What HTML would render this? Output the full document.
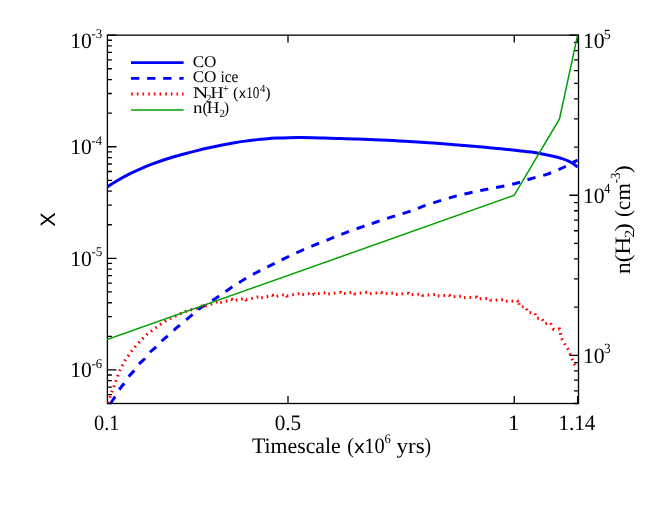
<!DOCTYPE html>
<html><head><meta charset="utf-8"><title>plot</title><style>html,body{margin:0;padding:0;background:#fff}svg{display:block;will-change:transform}</style></head><body>
<svg width="664" height="526" viewBox="0 0 664 526">
<rect width="664" height="526" fill="#fff"/>
<defs><clipPath id="c"><rect x="107.00" y="35.15" width="471.50" height="368.35"/></clipPath></defs>
<g stroke="#000" stroke-width="1.3" fill="none">
<rect x="107.40" y="35.15" width="471.10" height="368.35"/>
<path d="M107.40 403.50h4.50M107.40 394.66h4.50M107.40 387.19h4.50M107.40 380.72h4.50M107.40 375.02h4.50M107.40 369.91h9.10M107.40 336.32h4.50M107.40 316.67h4.50M107.40 302.73h4.50M107.40 291.91h4.50M107.40 283.08h4.50M107.40 275.61h4.50M107.40 269.14h4.50M107.40 263.43h4.50M107.40 258.32h9.10M107.40 224.73h4.50M107.40 205.08h4.50M107.40 191.14h4.50M107.40 180.33h4.50M107.40 171.49h4.50M107.40 164.02h4.50M107.40 157.55h4.50M107.40 151.84h4.50M107.40 146.74h9.10M107.40 113.15h4.50M107.40 93.50h4.50M107.40 79.55h4.50M107.40 68.74h4.50M107.40 59.91h4.50M107.40 52.43h4.50M107.40 45.96h4.50M107.40 40.26h4.50M107.40 35.15h9.10M578.50 403.50h-4.50M578.50 390.82h-4.50M578.50 380.11h-4.50M578.50 370.82h-4.50M578.50 362.64h-4.50M578.50 355.31h-9.10M578.50 307.12h-4.50M578.50 278.93h-4.50M578.50 258.93h-4.50M578.50 243.42h-4.50M578.50 230.74h-4.50M578.50 220.03h-4.50M578.50 210.74h-4.50M578.50 202.56h-4.50M578.50 195.23h-9.10M578.50 147.04h-4.50M578.50 118.85h-4.50M578.50 98.85h-4.50M578.50 83.34h-4.50M578.50 70.66h-4.50M578.50 59.95h-4.50M578.50 50.66h-4.50M578.50 42.47h-4.50M578.50 35.15h-9.10M288.00 403.50v-7.4M288.00 35.15v7.4M514.25 403.50v-7.4M514.25 35.15v7.4M577.60 403.50v-7.4M577.60 35.15v7.4"/>
</g>
<g clip-path="url(#c)" fill="none">
<path d="M107.00 187.12 C108.67 186.05 113.37 182.89 117.05 180.72 C120.73 178.56 125.09 176.16 129.10 174.13 C133.11 172.10 137.08 170.28 141.10 168.54 C145.12 166.80 149.18 165.20 153.20 163.70 C157.22 162.20 161.18 160.85 165.20 159.53 C169.22 158.22 174.00 156.81 177.30 155.83 C180.60 154.86 181.71 154.56 185.00 153.69 C188.29 152.81 193.03 151.58 197.05 150.60 C201.07 149.62 205.09 148.68 209.10 147.80 C213.11 146.91 217.08 146.07 221.10 145.27 C225.12 144.48 229.18 143.71 233.20 143.02 C237.22 142.33 241.18 141.69 245.20 141.13 C249.22 140.56 254.00 140.00 257.30 139.62 C260.60 139.25 261.71 139.14 265.00 138.89 C268.29 138.63 273.03 138.29 277.05 138.09 C281.07 137.88 285.09 137.76 289.10 137.68 C293.11 137.60 297.08 137.59 301.10 137.60 C305.12 137.61 309.18 137.68 313.20 137.76 C317.22 137.84 321.18 137.95 325.20 138.06 C329.22 138.17 334.00 138.33 337.30 138.43 C340.60 138.54 341.71 138.58 345.00 138.69 C348.29 138.80 353.03 138.96 357.05 139.11 C361.07 139.25 365.09 139.39 369.10 139.55 C373.11 139.71 377.08 139.86 381.10 140.04 C385.12 140.21 389.18 140.40 393.20 140.59 C397.22 140.79 401.18 141.00 405.20 141.22 C409.22 141.44 414.00 141.73 417.30 141.93 C420.60 142.13 421.71 142.21 425.00 142.43 C428.29 142.65 433.03 142.98 437.05 143.28 C441.07 143.57 445.09 143.89 449.10 144.21 C453.11 144.53 457.08 144.86 461.10 145.20 C465.12 145.55 469.18 145.91 473.20 146.27 C477.22 146.63 481.18 146.99 485.20 147.36 C489.22 147.73 494.00 148.18 497.30 148.49 C500.60 148.80 501.71 148.89 505.00 149.22 C508.29 149.55 513.03 150.00 517.05 150.44 C521.07 150.88 525.09 151.32 529.10 151.86 C533.11 152.41 537.08 152.96 541.10 153.68 C545.12 154.41 549.58 155.34 553.20 156.21 C556.82 157.08 559.98 157.95 562.80 158.90 C565.62 159.85 568.08 160.90 570.10 161.90 C572.12 162.90 573.65 164.03 574.90 164.90 C576.15 165.77 577.15 166.73 577.60 167.10" stroke="#0000ff" stroke-width="3.0"/>
<path d="M107.00 410.40 C107.57 409.32 109.10 406.13 110.40 403.90 C111.70 401.67 113.30 399.42 114.80 397.00 C116.30 394.58 117.87 391.62 119.40 389.40 C120.93 387.18 122.40 385.88 124.00 383.70 C125.60 381.52 127.28 378.52 129.00 376.30 C130.72 374.08 132.62 372.47 134.30 370.40 C135.98 368.33 137.25 365.93 139.10 363.90 C140.95 361.87 143.50 360.23 145.40 358.20 C147.30 356.17 148.65 353.65 150.50 351.70 C152.35 349.75 154.55 348.37 156.50 346.50 C158.45 344.63 160.17 342.42 162.20 340.50 C164.23 338.58 166.17 337.22 168.70 335.00 C171.23 332.78 173.85 330.25 177.40 327.20 C180.95 324.15 186.23 319.83 190.00 316.70 C193.77 313.57 195.63 311.52 200.00 308.40 C204.37 305.28 211.20 301.33 216.20 298.00 C221.20 294.67 225.43 291.43 230.00 288.40 C234.57 285.37 239.08 282.50 243.60 279.80 C248.12 277.10 252.58 274.60 257.10 272.20 C261.62 269.80 266.18 267.67 270.70 265.40 C275.22 263.13 279.23 261.00 284.20 258.60 C289.17 256.20 295.08 253.40 300.50 251.00 C305.92 248.60 311.28 246.42 316.70 244.20 C322.12 241.98 328.02 239.68 333.00 237.70 C337.98 235.72 341.63 234.15 346.60 232.30 C351.57 230.45 357.83 228.32 362.80 226.60 C367.77 224.88 371.43 223.67 376.40 222.00 C381.37 220.33 387.18 218.32 392.60 216.60 C398.02 214.88 402.90 213.73 408.90 211.70 C414.90 209.67 420.55 207.05 428.60 204.40 C436.65 201.75 447.67 198.28 457.20 195.80 C466.73 193.32 476.27 191.50 485.80 189.50 C495.33 187.50 506.88 185.60 514.40 183.80 C521.92 182.00 525.40 180.32 530.90 178.70 C536.40 177.08 542.18 175.88 547.40 174.10 C552.62 172.32 557.68 170.07 562.20 168.00 C566.72 165.93 571.93 163.00 574.50 161.70 C577.07 160.40 577.08 160.45 577.60 160.20" stroke="#0000ff" stroke-width="3.0" stroke-dasharray="8.3 7.895" stroke-dashoffset="-7.8"/>
<path d="M107.90 404.40 L108.60 402.60 L110.20 396.80 L112.00 391.50 L114.00 386.20 L116.00 380.70 L118.00 375.50 L120.00 370.00 L122.50 365.10 L125.40 359.90 L128.80 355.10 L132.00 350.60 L136.00 345.70 L139.90 341.70 L143.60 337.50 L147.60 333.70 L152.80 330.00 L157.90 326.30 L162.50 322.90 L167.00 320.00 L178.50 314.60 L187.90 310.50 L197.80 308.30 L204.60 304.57 L205.20 306.17 L218.20 301.44 L218.80 303.04 L231.80 299.56 L232.40 301.16 L245.40 298.16 L246.00 299.76 L259.00 296.65 L259.60 298.25 L272.60 295.33 L273.20 296.93 L286.20 294.32 L286.80 295.92 L299.80 293.39 L300.40 294.99 L313.40 292.77 L314.00 294.37 L327.00 292.56 L327.60 294.16 L340.60 292.36 L341.20 293.96 L354.20 292.20 L354.80 293.80 L367.80 292.20 L368.40 293.80 L381.40 292.43 L382.00 294.03 L395.00 292.83 L395.60 294.43 L408.60 293.34 L409.20 294.94 L422.20 293.86 L422.80 295.46 L435.80 294.37 L436.40 295.97 L449.40 295.27 L450.00 296.87 L463.00 296.04 L463.60 297.64 L476.60 297.16 L477.20 298.76 L490.20 298.52 L490.80 300.12 L503.80 299.79 L504.40 301.39 L517.40 300.93 L518.00 302.53 L518.40 301.00 L519.40 306.20 L526.20 307.40 L527.60 312.20 L534.80 313.10 L536.50 318.20 L541.60 318.20 L545.00 323.80 L550.20 322.50 L553.60 329.30 L559.60 329.00 L561.30 337.90 L564.70 343.80 L569.00 350.70 L571.50 357.50 L574.10 363.50 L575.80 366.10" stroke="#ff0000" stroke-width="3.0" stroke-dasharray="1.65 4.02" stroke-dashoffset="-1.3"/>
<path d="M107.00 339.65 L514.25 195.23 L559.50 118.85 L577.60 35.15" stroke="#00a000" stroke-width="1.5"/>
</g>
<g fill="none">
<path d="M131 62.65H183.6" stroke="#0000ff" stroke-width="2.9"/>
<path d="M131 78.4H183.6" stroke="#0000ff" stroke-width="2.9" stroke-dasharray="8.3 7.8"/>
<path d="M131.15 94.0H183.6" stroke="#ff0000" stroke-width="3.1" stroke-dasharray="1.65 4.02"/>
<path d="M131 110.0H183.6" stroke="#00a000" stroke-width="1.5"/>
</g>
<g font-family="'Liberation Serif', serif" fill="#000" text-rendering="geometricPrecision">
<text transform="translate(70.31 47.80) scale(0.9777 1)" font-size="22">10</text>
<text transform="translate(91.52 38.40) scale(0.9663 1)" font-size="13.4">-3</text>
<text transform="translate(70.31 154.24) scale(0.9777 1)" font-size="22">10</text>
<text transform="translate(91.53 144.84) scale(0.9373 1)" font-size="13.4">-4</text>
<text transform="translate(70.31 265.82) scale(0.9777 1)" font-size="22">10</text>
<text transform="translate(91.52 256.42) scale(0.9663 1)" font-size="13.4">-5</text>
<text transform="translate(70.31 377.41) scale(0.9777 1)" font-size="22">10</text>
<text transform="translate(91.53 368.01) scale(0.9546 1)" font-size="13.4">-6</text>
<text transform="translate(582.99 48.00) scale(0.9881 1)" font-size="22">10</text>
<text transform="translate(603.79 38.60) scale(0.9930 1)" font-size="14">5</text>
<text transform="translate(582.99 202.73) scale(0.9881 1)" font-size="22">10</text>
<text transform="translate(604.36 193.33) scale(0.8605 1)" font-size="14">4</text>
<text transform="translate(582.99 362.81) scale(0.9881 1)" font-size="22">10</text>
<text transform="translate(603.95 353.41) scale(0.9683 1)" font-size="14">3</text>
<text transform="translate(94.03 429.90) scale(0.9195 1)" font-size="22">0.1</text>
<text transform="translate(274.69 429.90) scale(0.9650 1)" font-size="22">0.5</text>
<text transform="translate(507.88 429.90) scale(1.0458 1)" font-size="22">1</text>
<text transform="translate(558.44 429.90) scale(0.9607 1)" font-size="22">1.14</text>
<text transform="translate(251.91 452.90) scale(0.9918 1)" font-size="22">Timescale</text>
<text transform="translate(347.23 452.90) scale(0.9026 1)" font-size="22">(</text>
<text transform="translate(354.27 452.90) scale(1.0843 1)" font-size="19.1" font-family="'Liberation Sans', sans-serif">x</text>
<text transform="translate(364.21 452.90) scale(0.9257 1)" font-size="22">10</text>
<text transform="translate(384.46 443.40) scale(0.9722 1)" font-size="13">6</text>
<text transform="translate(396.52 452.90) scale(1.0494 1)" font-size="22">yrs</text>
<text transform="translate(424.80 452.90) scale(0.8495 1)" font-size="22">)</text>
<g transform="translate(55.3 226.2) rotate(-90)"><text transform="translate(-0.48 0.00) scale(1.0282 1)" font-size="20.9" font-family="'Liberation Sans', sans-serif">X</text></g>
<g transform="translate(629.6 273.8) rotate(-90)">
<text transform="translate(-0.24 0.00) scale(1.0726 1)" font-size="22">n</text>
<text transform="translate(11.57 0.00) scale(1.0619 1)" font-size="22">(</text>
<text transform="translate(18.76 0.00) scale(1.1636 1)" font-size="22">H</text>
<text transform="translate(36.10 4.00) scale(1.1404 1)" font-size="14">2</text>
<text transform="translate(42.20 0.00) scale(1.1327 1)" font-size="22">)</text>
<text transform="translate(56.78 0.00) scale(0.9557 1)" font-size="22">(</text>
<text transform="translate(63.71 0.00) scale(0.9455 1)" font-size="22">c</text>
<text transform="translate(73.23 0.00) scale(1.0180 1)" font-size="22">m</text>
<text transform="translate(90.52 -9.80) scale(0.9249 1)" font-size="14">-3</text>
<text transform="translate(100.86 0.00) scale(1.0442 1)" font-size="22">)</text>
</g>
<text transform="translate(192.70 66.60) scale(1.0449 1)" font-size="16.4">CO</text>
<text transform="translate(192.70 82.40) scale(1.0449 1)" font-size="16.4">CO</text>
<text transform="translate(220.48 82.40) scale(0.9395 1)" font-size="16.4">ice</text>
<text transform="translate(192.78 97.90) scale(1.3097 1)" font-size="16.4">N</text>
<text transform="translate(206.02 101.90) scale(0.9978 1)" font-size="11">2</text>
<text transform="translate(210.38 97.90) scale(1.1110 1)" font-size="16.4">H</text>
<text transform="translate(223.10 91.50) scale(0.9182 1)" font-size="11">+</text>
<text transform="translate(233.08 97.90) scale(0.9971 1)" font-size="16.4">(</text>
<text transform="translate(238.95 97.90) scale(0.9443 1)" font-size="14.4" font-family="'Liberation Sans', sans-serif">x</text>
<text transform="translate(246.14 97.90) scale(0.8023 1)" font-size="16.4">10</text>
<text transform="translate(260.09 91.60) scale(0.9778 1)" font-size="11">4</text>
<text transform="translate(265.19 97.90) scale(0.9734 1)" font-size="16.4">)</text>
<text transform="translate(192.96 113.00) scale(1.1617 1)" font-size="16.4">n</text>
<text transform="translate(202.40 113.00) scale(0.9734 1)" font-size="16.4">(</text>
<text transform="translate(206.79 113.00) scale(1.0743 1)" font-size="16.4">H</text>
<text transform="translate(219.42 117.00) scale(0.9978 1)" font-size="11">2</text>
<text transform="translate(224.01 113.00) scale(0.9259 1)" font-size="16.4">)</text>
</g>
</svg>
</body></html>
